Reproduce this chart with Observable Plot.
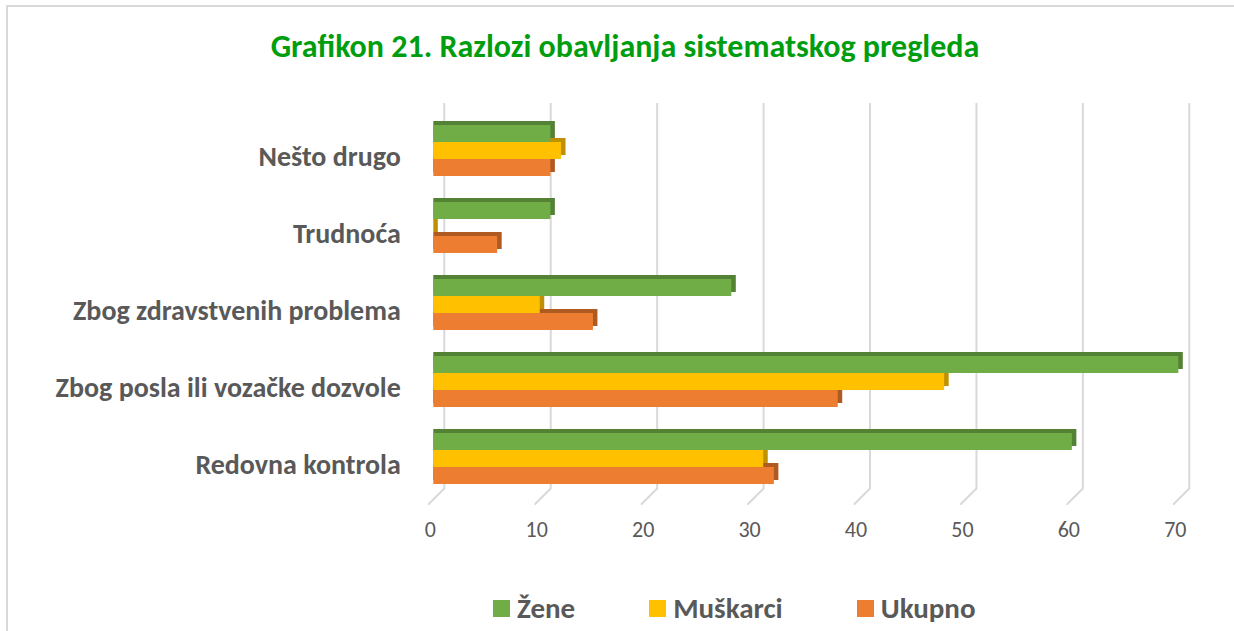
<!DOCTYPE html>
<html>
<head>
<meta charset="utf-8">
<script src="https://cdn.jsdelivr.net/npm/d3@7"></script>
<script src="https://cdn.jsdelivr.net/npm/@observablehq/plot@0.6"></script>
<style>
  html, body { margin: 0; padding: 0; background: #fff; }
  #page { position: relative; width: 1234px; height: 631px; overflow: hidden; background: #fff; font-family: Carlito, Calibri, Lato, sans-serif; }
  #frame { position: absolute; left: 6px; top: 5px; width: 1300px; height: 700px; border-left: 2px solid #d9d9d9; border-top: 2px solid #d9d9d9; }
  #title { position: absolute; left: 0; width: 1250px; top: 27px; line-height: 40px; text-align: center; color: #009e0f; font-weight: 700; font-size: 32px; }
  #chart { position: absolute; left: 0; top: 0; }
  #legend { position: absolute; left: 493px; top: 590px; line-height: 36px; display: flex; gap: 74px; align-items: center; color: #595959; font-weight: 700; font-size: 29px; }
  #legend .item { display: flex; align-items: center; gap: 7px; }
  #legend .sw { width: 17px; height: 17px; display: inline-block; }
</style>
</head>
<body>
<div id="page">
  <div id="frame"></div>
  <div id="title"></div>
  <div id="chart"></div>
  <div id="legend"></div>
</div>
<script>
const title = "Grafikon 21. Razlozi obavljanja sistematskog pregleda";
const categories = ["Nešto drugo", "Trudnoća", "Zbog zdravstvenih problema", "Zbog posla ili vozačke dozvole", "Redovna kontrola"];
const seriesNames = ["Žene", "Muškarci", "Ukupno"];
const zene = [11, 11, 28, 70, 60];
const muskarci = [12, 0, 10, 48, 31];
const ukupno = [11, 6, 15, 38, 32];
const xTicks = [0, 10, 20, 30, 40, 50, 60, 70];

const colors = ["#70ad47", "#ffc000", "#ed7d31"];
const darkColors = ["#548235", "#bf9000", "#ae5a21"];
const offsets = [-17, 0, 17];

const seriesValues = [zene, muskarci, ukupno];
const rows = seriesValues.map((vals, s) => categories.map((c, i) => ({category: c, value: vals[i], series: seriesNames[s]})));

const shadowMarks = rows.map((data, s) => Plot.barX(data, {
  x1: 0, x2: "value", y: "category",
  fill: darkColors[s], insetTop: 30, insetBottom: 30, insetRight: -4.5,
  dy: offsets[s] - 4
}));
const barMarks = rows.map((data, s) => Plot.barX(data, {
  x1: 0, x2: "value", y: "category",
  fill: colors[s], insetTop: 30, insetBottom: 30,
  dy: offsets[s]
}));

const chart = Plot.plot({
  width: 1234,
  height: 560,
  marginLeft: 433.3,
  marginRight: 55.7,
  marginTop: 112,
  marginBottom: 63,
  x: {domain: [0, 70]},
  y: {domain: categories, padding: 0},
  style: {fontFamily: "Carlito, Calibri, Lato, sans-serif", fontSize: "22px", background: "transparent"},
  marks: [
    Plot.ruleX(xTicks, {x: d => d, stroke: "#d9d9d9", strokeWidth: 2, dx: 10.5, dy: -9}),
    Plot.vector(xTicks, {
      x: d => d, frameAnchor: "bottom", anchor: "start",
      rotate: 225, length: 22, stroke: "#d9d9d9", strokeWidth: 2,
      dx: 10.5, dy: -9,
      shape: {draw(context, l) { context.moveTo(0, 0); context.lineTo(0, -l); }}
    }),
    ...shadowMarks,
    ...barMarks,
    Plot.axisX(xTicks, {tickSize: 0, tickPadding: 24, dx: -3.5, fontSize: 22, fill: "#595959", label: null}),
    Plot.axisY({tickSize: 0, tickPadding: 33, dy: 6, fontSize: 28, fontWeight: 700, fill: "#595959", label: null})
  ]
});
document.getElementById("chart").appendChild(chart);
document.getElementById("title").textContent = title;

const legend = document.getElementById("legend");
seriesNames.forEach((name, i) => {
  const item = document.createElement("div");
  item.className = "item";
  const sw = document.createElement("span");
  sw.className = "sw";
  sw.style.background = colors[i];
  const t = document.createElement("span");
  t.textContent = name;
  item.appendChild(sw);
  item.appendChild(t);
  legend.appendChild(item);
});
</script>
</body>
</html>
